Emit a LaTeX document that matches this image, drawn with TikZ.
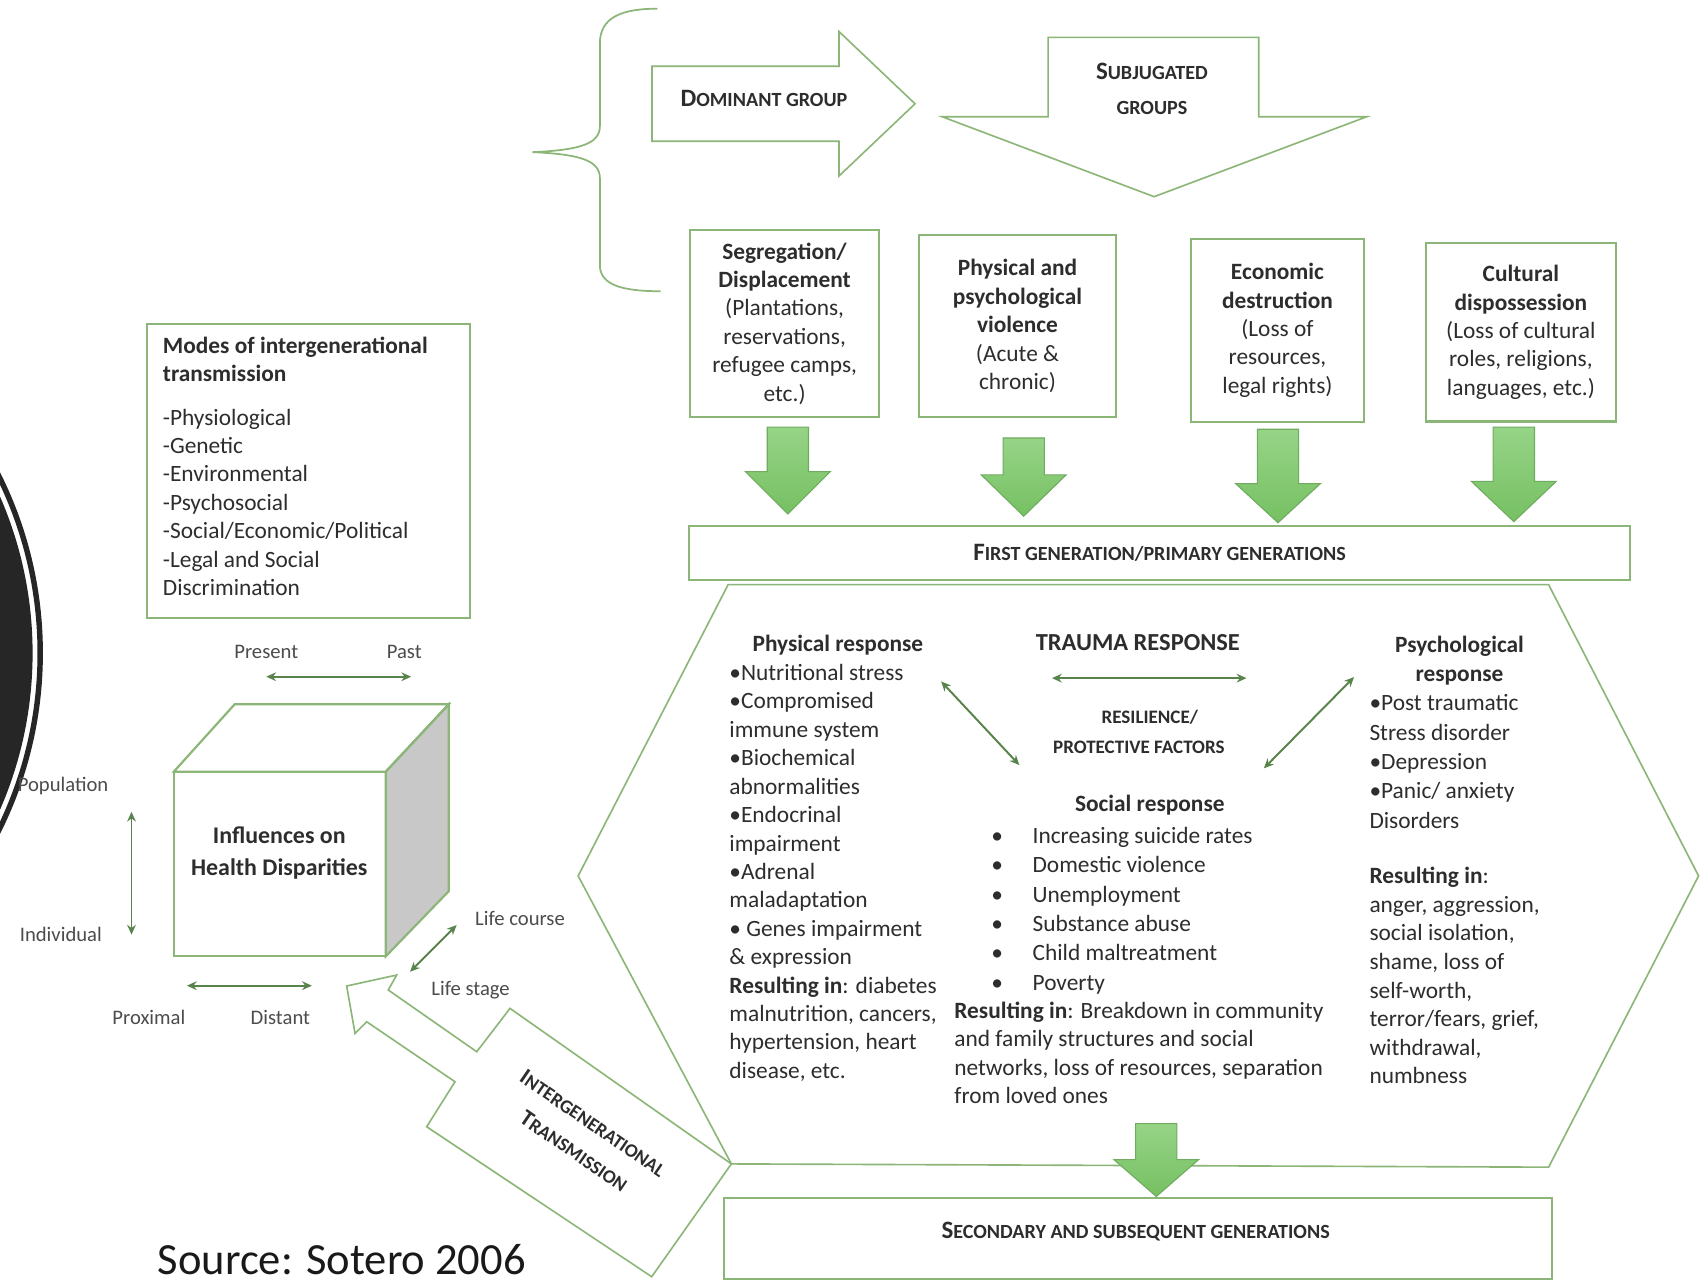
\documentclass[tikz,border=0pt]{standalone}
\usepackage{fontspec}
\setmainfont{Carlito}
\usetikzlibrary{arrows.meta}
\definecolor{lg}{RGB}{140,182,120}
\definecolor{dg}{RGB}{88,132,76}
\definecolor{agt}{RGB}{150,212,135}
\definecolor{agb}{RGB}{118,192,98}
\definecolor{ad}{RGB}{112,172,96}
\definecolor{tx}{RGB}{45,45,45}
\definecolor{cubegray}{RGB}{200,200,200}
\definecolor{blk}{RGB}{38,38,38}
\newcommand\bodyf{\fontsize{21.5}{26.15}\selectfont}
\newcommand\labf{\fontsize{19}{23}\selectfont}
\newcommand\capsx[2]{{\fontsize{23}{23}\selectfont #1}{\fontsize{18.5}{18.5}\selectfont #2}}
\newcommand\garrow[4]{\draw[blockarrow] (#1-19,#2) -- (#1+19,#2) -- (#1+19,#3) -- (#1+39,#3) -- (#1,#4) -- (#1-39,#3) -- (#1-19,#3) -- cycle;}
\begin{document}
\begin{tikzpicture}[x=1pt,y=-1pt,
  every node/.style={text=tx, inner sep=0pt},
  outl/.style={draw=lg, line width=1.5pt},
  boxs/.style={draw=lg, line width=2pt, align=center, font=\bodyf},
  blockarrow/.style={top color=agt, bottom color=agb, draw=ad, line width=1pt},
  dbl/.style={draw=dg, line width=1.8pt, {Stealth[length=9pt,width=8pt]}-{Stealth[length=9pt,width=8pt]}},
  txt/.style={font=\bodyf, align=left},
  lab/.style={font=\labf, text=tx!85},
  hdr/.style={font=\bfseries, text=tx}
]
\path[use as bounding box, fill=white] (0,0) rectangle (1568,1181);

% decorative black circle
\begin{scope}
\clip (0,0) rectangle (1568,1181);
\fill[blk] (-330,601) circle (360pt);
\draw[blk, line width=5pt] (-330,601) circle (367pt);
\end{scope}

% brace
\draw[lg, line width=1.6pt] (605,8) .. controls (572,8) and (552,16) .. (552,40) -- (552,116)
  .. controls (552,132) and (535,138) .. (490,140) .. controls (535,142) and (552,148) .. (552,164)
  -- (552,244) .. controls (552,262) and (572,268) .. (608,268);

% dominant group arrow
\draw[outl] (600,61) -- (772,61) -- (772,29) -- (842,95.5) -- (772,162) -- (772,130) -- (600,130) -- cycle;
\node[hdr] (dom) at (703,91) {\capsx{D}{OMINANT GROUP}};

% subjugated arrow
\draw[outl] (964.5,34.4) -- (1158.3,34.4) -- (1158.3,107.4) -- (1257.7,107.4) -- (1062,181) -- (866.9,107.4) -- (964.5,107.4) -- cycle;
\node[hdr] (sub1) at (1060,66) {\capsx{S}{UBJUGATED}};
\node[hdr] (sub2) at (1060,99) {\fontsize{18.5}{18.5}\selectfont GROUPS};

% four boxes
\node[boxs, minimum width=174pt, minimum height=172pt] (seg) at (722,297.7)
  {\textbf{Segregation/}\\\textbf{Displacement}\\(Plantations,\\reservations,\\refugee camps,\\etc.)};
\node[boxs, minimum width=181pt, minimum height=168pt] (viol) at (936.3,300)
  {\textbf{Physical and}\\\textbf{psychological}\\\textbf{violence}\\(Acute \&\\chronic)};
\node[boxs, minimum width=159pt, minimum height=168pt] (econ) at (1175.5,304)
  {\textbf{Economic}\\\textbf{destruction}\\(Loss of\\resources,\\legal rights)};
\node[boxs, minimum width=175pt, minimum height=164pt] (cult) at (1399.5,305.8)
  {\textbf{Cultural}\\\textbf{dispossession}\\(Loss of cultural\\roles, religions,\\languages, etc.)};

% green block arrows
\garrow{725}{393}{434}{473}
\garrow{942}{403}{437}{475}
\garrow{1176}{395}{445}{481}
\garrow{1393}{393}{443}{480}

% first generation box
\node[draw=lg, line width=2pt, minimum width=866pt, minimum height=50pt, hdr] (first) at (1067,509)
  {\capsx{F}{IRST GENERATION/PRIMARY GENERATIONS}};

% hexagon
\coordinate (hx1) at (670,538);
\coordinate (hx2) at (1425,538);
\coordinate (hx3) at (1563,806);
\coordinate (hx4) at (1425,1074);
\coordinate (hx5) at (673,1071);
\coordinate (hx6) at (532,806);
\draw[outl] (hx1) -- (hx2) -- (hx3) -- (hx4) -- (hx5) -- (hx6) -- cycle;

% physical response
\node[hdr, font=\bodyf\bfseries] (physh) at (771,594) {Physical response};
\node[txt, anchor=north west] (physl) at (671,607.7)
  {\strut\textbullet Nutritional stress\\\textbullet Compromised\\immune system\\\textbullet Biochemical\\abnormalities\\\textbullet Endocrinal\\impairment\\\textbullet Adrenal\\maladaptation\\\textbullet{} Genes impairment\\\& expression\\\textbf{Resulting in}: diabetes\\malnutrition, cancers,\\hypertension, heart\\disease, etc.};

% trauma response centre
\node[font=\fontsize{22.5}{26}\selectfont\bfseries] (trauma) at (1047,591) {TRAUMA RESPONSE};
\coordinate (ta) at (968,624);
\coordinate (tb) at (1147,624);
\draw[dbl] (ta) -- (tb);
\node[font=\fontsize{17.5}{20}\selectfont\bfseries] (res1) at (1058,660) {RESILIENCE/};
\node[font=\fontsize{17.5}{20}\selectfont\bfseries] (res2) at (1048,688) {PROTECTIVE FACTORS};
\coordinate (la) at (866,627);
\coordinate (lb) at (938,704);
\draw[dbl] (la) -- (lb);
\coordinate (ra) at (1246,623);
\coordinate (rb) at (1163,707);
\draw[dbl] (ra) -- (rb);

% social response
\node[font=\bodyf\bfseries] (soch) at (1058,741) {Social response};
\node[txt, anchor=north west, font=\fontsize{21.5}{27}\selectfont] (socl) at (912,757.1)
  {\strut\makebox[38pt][l]{\textbullet}Increasing suicide rates\\\makebox[38pt][l]{\textbullet}Domestic violence\\\makebox[38pt][l]{\textbullet}Unemployment\\\makebox[38pt][l]{\textbullet}Substance abuse\\\makebox[38pt][l]{\textbullet}Child maltreatment\\\makebox[38pt][l]{\textbullet}Poverty};
\node[txt, anchor=north west] (socr) at (878,918.7)
  {\strut\textbf{Resulting in}: Breakdown in community\\and family structures and social\\networks, loss of resources, separation\\from loved ones};

% psychological response
\node[font=\fontsize{21.5}{27}\selectfont\bfseries, align=center, anchor=north] (psyh) at (1343,581.1)
  {\strut Psychological\\response};
\node[txt, anchor=north west, font=\fontsize{21.5}{27}\selectfont] (psyl) at (1260,635.1)
  {\strut\textbullet Post traumatic\\Stress disorder\\\textbullet Depression\\\textbullet Panic/ anxiety\\Disorders};
\node[txt, anchor=north west, font=\fontsize{21.5}{26.3}\selectfont] (psyr) at (1260,794.6)
  {\strut\textbf{Resulting in}:\\anger, aggression,\\social isolation,\\shame, loss of\\self-worth,\\terror/fears, grief,\\withdrawal,\\numbness};

% arrow to secondary generations
\garrow{1064}{1034}{1067}{1101}
\node[draw=lg, line width=2pt, minimum width=762pt, minimum height=75pt] (second) at (1047,1139.5) {};
\node[hdr] (secondt) at (1045,1133) {\capsx{S}{ECONDARY AND SUBSEQUENT GENERATIONS}};

% modes box
\node[draw=lg, line width=2pt, minimum width=297pt, minimum height=271pt] (modes) at (284,433.5) {};
\node[txt, anchor=north west, font=\bodyf\bfseries] (modest) at (149.7,306.7)
  {\strut Modes of intergenerational\\transmission};
\node[txt, anchor=north west] (modesl) at (149.7,372.7)
  {\strut -Physiological\\-Genetic\\-Environmental\\-Psychosocial\\-Social/Economic/Political\\-Legal and Social\\Discrimination};

% present / past
\node[lab] (present) at (245,600) {Present};
\node[lab] (past) at (372,600) {Past};
\coordinate (pa) at (245,622.7);
\coordinate (pb) at (378.4,622.7);
\draw[dbl] (pa) -- (pb);

% cube
\coordinate (c1) at (160,710);
\coordinate (c2) at (355,710);
\coordinate (c3) at (355,880);
\coordinate (c4) at (160,880);
\coordinate (c5) at (216,648);
\coordinate (c6) at (413,648);
\coordinate (c7) at (413,820);
\filldraw[draw=lg, line width=2pt, fill=cubegray] (c2) -- (c6) -- (c7) -- (c3) -- cycle;
\draw[draw=lg, line width=2pt] (c1) -- (c5) -- (c6) -- (c2) -- cycle;
\draw[draw=lg, line width=2pt] (c1) -- (c2) -- (c3) -- (c4) -- cycle;
\node[font=\fontsize{22}{30}\selectfont\bfseries, align=center] (cubet) at (257,785)
  {Influences on\\Health Disparities};

% axis labels
\node[lab] (popl) at (58,723) {Population};
\node[lab] (indl) at (56,860) {Individual};
\coordinate (va) at (121,747);
\coordinate (vb) at (121,860);
\draw[dbl] (va) -- (vb);
\coordinate (ha) at (172,907);
\coordinate (hb) at (287,907);
\draw[dbl] (ha) -- (hb);
\node[lab] (prox) at (137,936) {Proximal};
\node[lab] (dist) at (258,936) {Distant};
\node[lab] (lcourse) at (478.5,845) {Life course};
\node[lab] (lstage) at (433,911) {Life stage};
\coordinate (da) at (377.3,894.2);
\coordinate (db) at (420.2,851.2);
\draw[dbl] (da) -- (db);

% intergenerational transmission arrow
\draw[outl] (319,907.3) -- (365,897.2) -- (357.3,911) -- (438.7,967.8) -- (469.3,927.9)
  -- (hx5) -- (599.7,1174.8) -- (392.6,1036.8) -- (418.7,995.4) -- (337.4,940.2) -- (326.7,950.9) -- cycle;
\node[hdr, rotate=-34.5, align=center, font=\fontsize{17.5}{31}\selectfont\bfseries] (igt) at (537,1046.5)
  {{\fontsize{21}{31}\selectfont I}NTERGENERATIONAL\\{\fontsize{21}{31}\selectfont T}RANSMISSION};

% source
\node[anchor=base west, font=\fontsize{41}{45}\selectfont, text=black!90] (src) at (145,1173) {Source: Sotero 2006};
\end{tikzpicture}
\end{document}
